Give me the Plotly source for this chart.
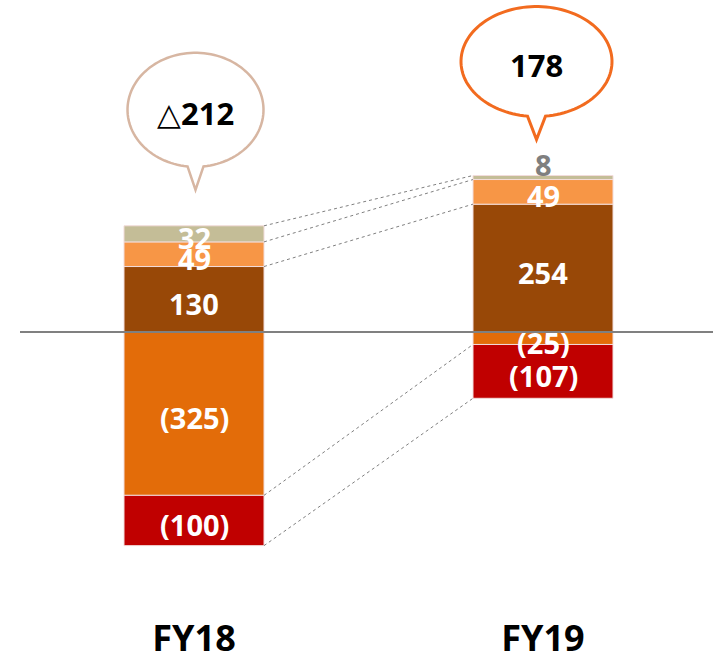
import numpy as np
import plotly.graph_objects as go

# ---------------- data ----------------
categories = ["FY18", "FY19"]
seg_brown = [130, 254]
seg_light_orange = [49, 49]
seg_beige = [32, 8]
seg_orange = [-325, -25]
seg_red = [-100, -107]
totals = [-212, 178]

# ---------------- styles ----------------
W, H = 713, 658
M_B = 50
PLOT_H = H - M_B
X_RANGE = [-0.5559, 1.4871]
Y_RANGE = [-549, 660]
PX_PER_X = W / (X_RANGE[1] - X_RANGE[0])
UNITS_PER_PY = (Y_RANGE[1] - Y_RANGE[0]) / PLOT_H
BAR_W = 140 / PX_PER_X
FONT = "Open Sans"

xs = list(range(len(categories)))
series = [
    (seg_brown, "#984807"),
    (seg_light_orange, "#F79646"),
    (seg_beige, "#C4BD97"),
    (seg_orange, "#E36C09"),
    (seg_red, "#C00000"),
]

fig = go.Figure()

# connector lines (behind bars)
pos_series = [seg_brown, seg_light_orange, seg_beige]
neg_series = [seg_orange, seg_red]
for group in (pos_series, neg_series):
    cum = np.cumsum(np.array(group), axis=0)
    for row in cum:
        fig.add_trace(go.Scatter(
            x=[xs[0] + BAR_W / 2, xs[1] - BAR_W / 2], y=[row[0], row[1]],
            mode="lines", line=dict(color="#808080", width=1, dash="dot"),
            hoverinfo="skip", showlegend=False))

for vals, col in series:
    fig.add_trace(go.Bar(
        x=xs, y=vals, width=BAR_W,
        marker=dict(color=col, line=dict(color="#F2DCDB", width=1)),
        hoverinfo="skip", showlegend=False))


def fmt(v):
    return f"({abs(v)})" if v < 0 else f"{v}"


annotations = []
for group in (pos_series, neg_series):
    for i in xs:
        base = 0
        for s in group:
            v = s[i]
            top = base + v
            if abs(v) >= 20:
                annotations.append(dict(
                    x=i, y=(base + top) / 2, text=fmt(v), showarrow=False,
                    yshift=-4,
                    font=dict(family=FONT, size=29, color="white", weight="bold")))
            else:
                annotations.append(dict(
                    x=i, y=top, text=fmt(v), showarrow=False, yanchor="bottom",
                    yshift=-10,
                    font=dict(family=FONT, size=29, color="#7F7F7F", weight="bold")))
            base = top

# speech bubbles
bubble_styles = [
    dict(dx=1.5, rx=68, ry=57, tip=80, hw=8, color="#D7B6A2", lw=2.5),
    dict(dx=-6.5, rx=75.5, ry=55, tip=78, hw=9, color="#F26B1F", lw=3),
]
shapes = []
for i, st in zip(xs, bubble_styles):
    pos_top = sum(s[i] for s in pos_series)
    tip_y = pos_top + 36 * UNITS_PER_PY
    cx = i + st["dx"] / PX_PER_X
    cy = tip_y + st["tip"] * UNITS_PER_PY
    t0 = np.arccos(st["hw"] / st["rx"])
    t1 = np.pi - t0
    ts = np.linspace(t1, t0 + 2 * np.pi, 120)
    dxp = list(st["rx"] * np.cos(ts)) + [0.0]
    dyp = list(st["ry"] * np.sin(ts)) + [float(st["tip"])]
    pts = [(cx + a / PX_PER_X, cy - b * UNITS_PER_PY) for a, b in zip(dxp, dyp)]
    path = "M " + " L ".join(f"{px:.5f},{py:.3f}" for px, py in pts) + " Z"
    shapes.append(dict(type="path", path=path, xref="x", yref="y",
                       line=dict(color=st["color"], width=st["lw"]),
                       fillcolor="white", layer="above"))
    t = totals[i]
    txt = f"△<b>{abs(t)}</b>" if t < 0 else f"<b>{t}</b>"
    annotations.append(dict(
        x=cx, y=cy, text=txt, showarrow=False, yshift=-3,
        font=dict(family=FONT, size=31, color="black")))

# zero line
shapes.append(dict(type="line", xref="x", yref="y",
                   x0=X_RANGE[0] + 20 / PX_PER_X, x1=X_RANGE[1], y0=0, y1=0,
                   line=dict(color="#808080", width=2), layer="above"))

fig.update_layout(
    width=W, height=H, barmode="relative",
    margin=dict(l=0, r=0, t=0, b=M_B),
    paper_bgcolor="white", plot_bgcolor="white",
    showlegend=False,
    shapes=shapes, annotations=annotations,
    xaxis=dict(range=X_RANGE, tickvals=xs, ticktext=categories,
               showgrid=False, zeroline=False, showline=False, ticks="",
               automargin=False, ticklabelstandoff=6,
               tickfont=dict(family=FONT, size=36, color="black", weight="bold")),
    yaxis=dict(range=Y_RANGE, visible=False, showgrid=False, zeroline=False,
               automargin=False),
)

fig.write_html("out.html", config={"displayModeBar": False},
               post_script="document.body.style.margin='0px';")
